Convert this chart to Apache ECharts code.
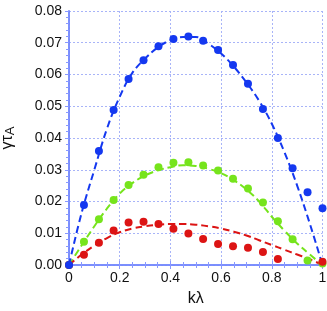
<!DOCTYPE html>
<html>
<head>
<meta charset="utf-8">
<script src="https://cdn.jsdelivr.net/npm/echarts@6/dist/echarts.min.js"></script>
<style>html,body{margin:0;padding:0;background:#fff}#c{width:327px;height:311px}</style>
</head>
<body>
<div id="c"></div>
<script>
// measured points (kλ = i/17)
var kPts = [0, 0.059, 0.118, 0.176, 0.235, 0.294, 0.353, 0.412, 0.471, 0.529, 0.588, 0.647, 0.706, 0.765, 0.824, 0.882, 0.941, 1.0];
var bluePts = [0, 0.0189, 0.0359, 0.0488, 0.0586, 0.0645, 0.0689, 0.0712, 0.0720, 0.0706, 0.0677, 0.0630, 0.0571, 0.0491, 0.0400, 0.0305, 0.0229, 0.0179];
var greenPts = [0, 0.0073, 0.0144, 0.0205, 0.0252, 0.0284, 0.0308, 0.0322, 0.0324, 0.0313, 0.0298, 0.0272, 0.0241, 0.0197, 0.0138, 0.0081, 0.0014, 0.0005];
var redPts = [0, 0.0032, 0.0070, 0.0109, 0.0134, 0.0136, 0.0129, 0.0114, 0.0099, 0.0082, 0.0066, 0.0059, 0.0054, 0.0041, 0.0019, null, null, 0.0010];

// dashed curves
var kCurve = [0, 0.05, 0.1, 0.15, 0.2, 0.25, 0.3, 0.35, 0.4, 0.45, 0.5, 0.55, 0.6, 0.65, 0.7, 0.75, 0.8, 0.85, 0.9, 0.95, 1.0];
var blueCurve = [0, 0.0165, 0.0300, 0.0430, 0.0530, 0.0605, 0.0650, 0.0685, 0.0708, 0.0718, 0.0718, 0.0697, 0.0666, 0.0625, 0.0575, 0.0517, 0.0445, 0.0355, 0.0250, 0.0130, 0];
var greenCurve = [0, 0.0062, 0.0122, 0.0178, 0.0225, 0.0258, 0.0282, 0.0298, 0.0308, 0.0314, 0.0312, 0.0303, 0.0289, 0.0267, 0.0238, 0.0200, 0.0152, 0.0108, 0.0068, 0.0033, 0];
var redCurve = [0, 0.0033, 0.0061, 0.0085, 0.0103, 0.0115, 0.0122, 0.0127, 0.0129, 0.0129, 0.0127, 0.0122, 0.0115, 0.0105, 0.0093, 0.0078, 0.0063, 0.0048, 0.0033, 0.0018, 0];

var xTicks = [0, 0.2, 0.4, 0.6, 0.8, 1];
var yTicks = [0, 0.01, 0.02, 0.03, 0.04, 0.05, 0.06, 0.07, 0.08];

var BLUE = '#1438f0', GREEN = '#76e41c', RED = '#dc1414';
var FONT = '"Liberation Sans", Arial, sans-serif';

function pairs(xs, ys) {
  var out = [];
  for (var i = 0; i < xs.length; i++) {
    if (ys[i] !== null) out.push([xs[i], ys[i]]);
  }
  return out;
}
function curve(ys, color) {
  return {
    type: 'line', data: pairs(kCurve, ys), smooth: 0.4, showSymbol: false, symbol: 'none',
    lineStyle: { color: color, width: 2, type: [7, 4] }, z: 2, silent: true
  };
}
function dots(ys, color, z) {
  return {
    type: 'scatter', data: pairs(kPts, ys), symbolSize: 8, clip: false,
    itemStyle: { color: color, opacity: 1 }, z: z, silent: true
  };
}

var chart = echarts.init(document.getElementById('c'), null, { renderer: 'canvas' });
chart.setOption({
  animation: false,
  grid: { left: 69, right: 4.5, top: 11, bottom: 46, containLabel: false, outerBoundsMode: 'none' },
  xAxis: [{
    type: 'value', min: 0, max: 1, interval: 0.2,
    name: 'kλ', nameLocation: 'middle', nameGap: 26,
    nameTextStyle: { fontSize: 16, color: '#111', fontFamily: FONT },
    axisLine: { show: true, lineStyle: { color: '#2a4cf5', width: 1.5 } },
    axisTick: { show: true, inside: true, length: 4, lineStyle: { color: '#8898ff' } },
    minorTick: { show: true, splitNumber: 4, length: 3, lineStyle: { color: '#8898ff' } },
    axisLabel: { fontSize: 14, color: '#111', margin: 6, fontFamily: FONT,
      customValues: xTicks, formatter: function (v) { return String(Math.round(v * 10) / 10); } },
    splitLine: { show: true, lineStyle: { color: '#a8b4f8', type: [2, 2], width: 1 } }
  }, {
    type: 'value', min: 0, max: 1, interval: 0.2, position: 'top',
    axisLine: { show: true, lineStyle: { color: '#8898ff', width: 1.5 } },
    axisTick: { show: true, inside: true, length: 4, lineStyle: { color: '#8898ff' } },
    minorTick: { show: true, splitNumber: 4, length: 3, lineStyle: { color: '#8898ff' } },
    axisLabel: { show: false }, splitLine: { show: false }
  }],
  yAxis: [{
    type: 'value', min: 0, max: 0.08, interval: 0.01,
    name: '{a|γτ}{b|A}', nameLocation: 'middle', nameGap: 52, nameRotate: 90,
    nameTextStyle: {
      color: '#111', fontFamily: FONT,
      rich: {
        a: { fontSize: 16, color: '#111', verticalAlign: 'top', lineHeight: 17, fontFamily: FONT },
        b: { fontSize: 13, color: '#111', verticalAlign: 'bottom', lineHeight: 13, padding: [8, 0, 0, 0], fontFamily: FONT }
      }
    },
    axisLine: { show: true, lineStyle: { color: '#2a4cf5', width: 1.5 } },
    axisTick: { show: false },
    axisLabel: { fontSize: 14, color: '#111', margin: 7, fontFamily: FONT,
      customValues: yTicks, formatter: function (v) { return v.toFixed(2); } },
    splitLine: { show: true, lineStyle: { color: '#a8b4f8', type: [2, 2], width: 1 } }
  }, {
    type: 'value', min: 0, max: 0.08, interval: 0.01, position: 'right',
    axisLine: { show: true, lineStyle: { color: '#8898ff', width: 1.5 } },
    axisTick: { show: true, inside: true, length: 4, lineStyle: { color: '#8898ff' } },
    minorTick: { show: true, splitNumber: 5, length: 3, lineStyle: { color: '#8898ff' } },
    axisLabel: { show: false }, splitLine: { show: false }
  }],
  series: [
    curve(greenCurve, GREEN),
    curve(redCurve, RED),
    curve(blueCurve, BLUE),
    dots(greenPts, GREEN, 3),
    dots(redPts, RED, 4),
    dots(bluePts, BLUE, 5)
  ]
});
</script>
</body>
</html>
